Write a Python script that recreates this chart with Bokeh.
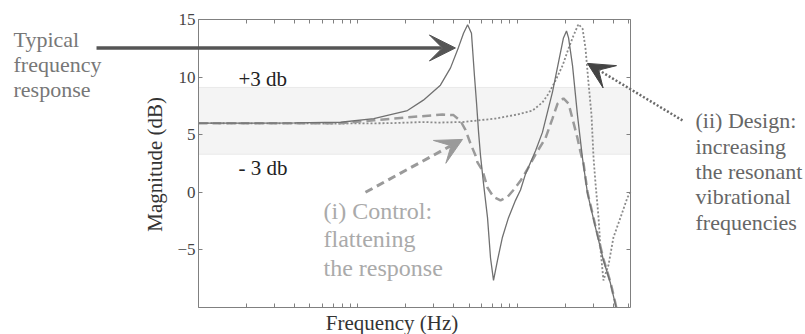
import math
from bokeh.plotting import figure
from bokeh.models import (Range1d, FixedTicker, LinearAxis, LogAxis, BoxAnnotation,
                          Label, Arrow, VeeHead, CustomJSTickFormatter)
from bokeh.embed import file_html
from bokeh.resources import INLINE

# ---- data (frequency in Hz, magnitude in dB) ----
solid_f = [10, 40, 78, 126, 205, 258, 330, 382, 429, 461, 489, 517, 525, 540, 556, 573, 589, 615,
           652, 681, 711, 753, 809, 883, 977, 1050, 1130, 1306, 1442, 1667, 1820, 1954, 2042, 2104,
           2228, 2393, 2576, 2767, 3105, 3483, 3855, 4150, 4190]
solid_db = [6.0, 6.02, 6.08, 6.4, 7.1, 8.0, 9.3, 10.8, 12.6, 13.8, 14.55, 13.8, 12.5, 10.1, 7.8, 5.2,
            3.2, 0.8, -2.2, -5.7, -7.65, -5.9, -3.9, -2.2, -0.7, 0.2, 1.6, 3.6, 5.2, 8.7, 11.3, 13.4,
            14.0, 13.4, 11.0, 6.7, 2.9, -0.1, -3.06, -5.9, -7.9, -9.8, -10.0]

control_f = [10, 78, 126, 205, 340, 399, 441, 475, 509, 548, 564, 606, 652, 711, 787, 871, 949, 1050,
             1161, 1306, 1507, 1667, 1795, 1954, 2104, 2259, 2393, 2500, 2612, 2767, 3105, 3483, 3855,
             4150, 4190]
control_db = [6.0, 6.0, 6.25, 6.5, 6.75, 6.7, 6.2, 5.4, 4.25, 3.2, 2.6, 1.9, 0.4, -0.4, -0.7, -0.4,
              0.2, 1.0, 2.0, 3.3, 4.7, 6.4, 7.7, 8.15, 7.7, 6.05, 4.7, 3.5, 2.5, 0.0, -2.95, -5.8,
              -7.8, -9.7, -10.0]

design_f = [10, 78, 160, 258, 321, 454, 731, 1000, 1250, 1442, 1574, 1742, 1929, 2104, 2259, 2427,
            2576, 2687, 2806, 2931, 3018, 3105, 3245, 3342, 3483, 3749, 4027, 4456, 4928, 5150]
design_db = [6.0, 5.97, 6.0, 6.1, 6.05, 6.1, 6.4, 6.75, 7.1, 7.8, 8.55, 9.7, 11.0, 12.5, 13.6, 14.6,
             14.2, 12.5, 9.5, 6.7, 3.0, 0.8, -2.2, -5.05, -7.65, -6.3, -3.9, -2.2, -0.45, 0.0]

band_low, band_high = 3.3, 9.1
x_lo, x_hi = 10, 5150
y_lo, y_hi = -10, 15
y_ticks = [-5, 0, 5, 10, 15]
y_tick_labels = ["\u22125", "0", "5", "10", "15"]
x_major = [10, 100, 1000]
x_minor = [20, 30, 40, 50, 60, 70, 80, 90, 200, 300, 400, 500, 600, 700, 800, 900,
           2000, 3000, 4000, 5000]

# ---- layout (pixels) ----
W, H = 805, 334
PL, PR, PT, PB = 198, 630, 19, 307          # plot-box edges inside the canvas
dec = (PR - PL) / (math.log10(x_hi) - math.log10(x_lo))
ppd = (PB - PT) / (y_hi - y_lo)
xr = Range1d(10 ** (math.log10(x_lo) - PL / dec), 10 ** (math.log10(x_hi) + (W - PR) / dec))
yr = Range1d(y_lo - (H - PB) / ppd, y_hi + PT / ppd)

FONT = "Liberation Serif"
AX = "#808080"

p = figure(width=W, height=H, x_axis_type="log", x_range=xr, y_range=yr,
           output_backend="svg", toolbar_location=None,
           min_border=0, min_border_left=0, min_border_right=0,
           min_border_top=0, min_border_bottom=0)
p.grid.visible = False
p.outline_line_color = None
p.background_fill_color = "white"
p.border_fill_color = "white"

xt = FixedTicker(ticks=x_major, minor_ticks=x_minor)
yt = FixedTicker(ticks=y_ticks, minor_ticks=[])


def style_axis(ax, labels=False):
    ax.axis_line_color = AX
    ax.major_tick_line_color = AX
    ax.minor_tick_line_color = AX
    ax.major_tick_in = 4
    ax.major_tick_out = 0
    ax.minor_tick_in = 4
    ax.minor_tick_out = 0
    if not labels:
        ax.formatter = CustomJSTickFormatter(code="return '';")
        ax.major_label_text_font_size = "1px"
        ax.major_label_standoff = 0


xa = p.xaxis[0]
xa.ticker = xt
xa.fixed_location = y_lo
xa.bounds = (x_lo, x_hi)
style_axis(xa)

ya = p.yaxis[0]
ya.ticker = yt
ya.fixed_location = x_lo
ya.bounds = (y_lo, y_hi)
style_axis(ya, labels=True)
ya.minor_tick_line_color = None
ya.major_label_text_font = FONT
ya.major_label_text_font_size = "17px"
ya.major_label_text_color = "#444444"
ya.major_label_standoff = 3
ya.major_label_overrides = {str(t): s for t, s in zip(y_ticks, y_tick_labels)}

top = LogAxis(ticker=xt, fixed_location=y_hi, bounds=(x_lo, x_hi))
style_axis(top)
p.add_layout(top, "above")
right = LinearAxis(ticker=yt, fixed_location=x_hi, bounds=(y_lo, y_hi))
style_axis(right)
right.minor_tick_line_color = None
p.add_layout(right, "right")

p.add_layout(BoxAnnotation(left=x_lo, right=x_hi, bottom=band_low, top=band_high,
                           fill_color="#f4f4f4", fill_alpha=1,
                           line_color="#c8c8c8", line_width=1, level="underlay"))

p.line(design_f, design_db, line_color="#8a8a8a", line_width=1.8, line_dash="2 2")
p.line(control_f, control_db, line_color="#9a9a9a", line_width=2.5, line_dash="9 5")
p.line(solid_f, solid_db, line_color="#707070", line_width=1.3)

# arrows
p.add_layout(Arrow(x_start=2.29, y_start=12.53, x_end=410, y_end=12.53,
                   line_color="#555555", line_width=3.5,
                   end=VeeHead(size=26, fill_color="#555555", line_color="#555555")))
p.add_layout(Arrow(x_start=111.7, y_start=0.0, x_end=454, y_end=4.59,
                   line_color="#9a9a9a", line_width=3, line_dash="8 5",
                   end=VeeHead(size=26, fill_color="#9a9a9a", line_color="#9a9a9a")))
p.add_layout(Arrow(x_start=10914, y_start=6.24, x_end=2767, y_end=11.19,
                   line_color="#6a6a6a", line_width=2.5, line_dash="2 2",
                   end=VeeHead(size=26, fill_color="#444444", line_color="#444444")))


def lab(x, y, t, size, color, align="left", baseline="alphabetic", angle=0.0):
    p.add_layout(Label(x=x, y=y, text=t, text_font=FONT, text_font_size=size,
                       text_color=color, text_align=align, text_baseline=baseline,
                       angle=angle))


for yy, t in zip([13.27, 11.10, 8.93], ["Typical", "frequency", "response"]):
    lab(0.69, yy, t, "22px", "#777777")
for yy, t in zip([6.20, 4.00, 1.82, -0.40, -2.61],
                 ["(ii) Design:", "increasing", "the resonant", "vibrational", "frequencies"]):
    lab(13183, yy, t, "22px", "#666666")
lab(17.83, 9.85, "+3 db", "21px", "#222222")
lab(17.83, 2.08, "- 3 db", "21px", "#222222")
for yy, t in zip([-1.66, -4.09, -6.60], ["(i) Control:", "flattening", "the response"]):
    lab(60.9, yy, t, "24px", "#aaaaaa")
lab(164, -11.38, "Frequency (Hz)", "21px", "#333333", align="center")
lab(5.37, 2.42, "Magnitude (dB)", "21px", "#333333", align="center", baseline="middle",
    angle=math.pi / 2)

open("out.html", "w").write(file_html(p, INLINE))
